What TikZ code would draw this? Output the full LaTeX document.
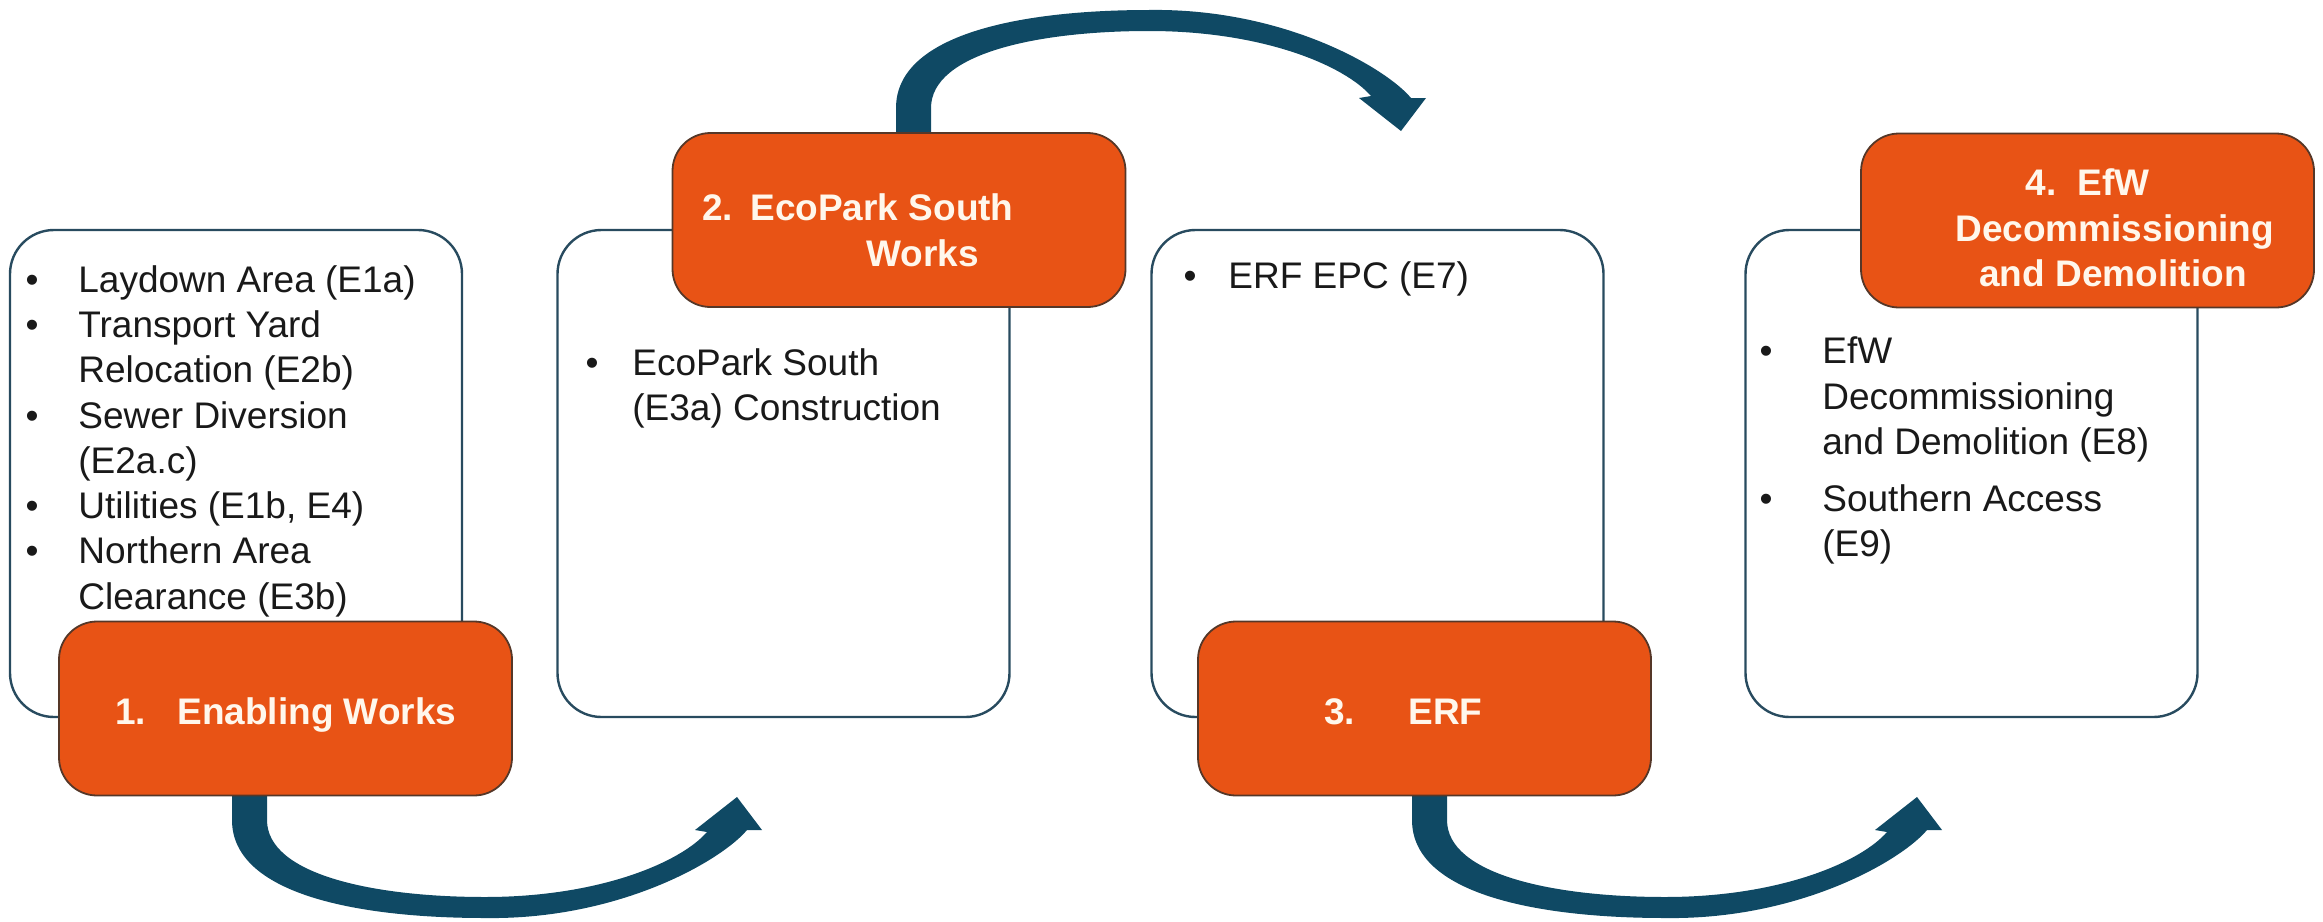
\documentclass[tikz,border=0pt]{standalone}
\usepackage{fontspec}
\setmainfont{Liberation Sans}
\definecolor{orangefill}{RGB}{232,83,21}
\definecolor{orangeline}{RGB}{85,55,40}
\definecolor{boxline}{RGB}{40,75,95}
\definecolor{arrowcol}{RGB}{15,73,100}
\definecolor{titletext}{RGB}{255,247,236}
\definecolor{bodytext}{RGB}{25,25,25}
\tikzset{
  curvarrow/.pic={
    \fill[arrowcol] (-18,-25) -- (-18,25) .. controls (-18,100) and (110,123) .. (235,123)
      .. controls (370,125) and (472,65) .. (497,35) -- (512,35) -- (487,2) -- (445,35) -- (457,37)
      .. controls (431,67) and (350,102) .. (235,102)
      .. controls (125,102) and (17,80) .. (17,25) -- (17,-25) -- cycle;
  }
}
\begin{document}
\begin{tikzpicture}[x=0.5pt,y=-0.5pt,
  whitebox/.style={draw=boxline, line width=1.2pt, fill=white, rounded corners=22pt,
    minimum width=226pt, minimum height=243.5pt, inner sep=0pt, outer sep=0pt},
  orangebox/.style={draw=orangeline, line width=0.9pt, fill=orangefill, rounded corners=19pt,
    minimum width=226.5pt, minimum height=87pt, inner sep=0pt, outer sep=0pt},
  bodytxt/.style={font=\fontsize{18.5}{22.65}\selectfont, text=bodytext, anchor=base west, inner sep=0pt},
  bul/.style={font=\fontsize{18.5}{22.65}\selectfont, text=bodytext, anchor=base, inner sep=0pt},
  ttltxt/.style={font=\fontsize{18.5}{22.65}\selectfont\bfseries, text=titletext, anchor=base west, inner sep=0pt}
]
\useasboundingbox (0,0) rectangle (2323,921);

% white content boxes
\node[whitebox] (w1) at (236,473.5) {};
\node[whitebox] (w2) at (783.5,473.5) {};
\node[whitebox] (w3) at (1377.5,473.5) {};
\node[whitebox] (w4) at (1971.5,473.5) {};

% curved arrows
\coordinate (s1) at (250,795);
\coordinate (s2) at (914,133);
\coordinate (s3) at (1430,795);
\pic at (s1) {curvarrow};
\pic[yscale=-1] at (s2) {curvarrow};
\pic at (s3) {curvarrow};

% orange title boxes
\node[orangebox] (o1) at (285.5,708.5) {};
\node[orangebox] (o2) at (899,220) {};
\node[orangebox] (o3) at (1424.5,708.5) {};
\node[orangebox] (o4) at (2087.5,220.5) {};

% titles
\node[ttltxt] (t1n) at (115,724) {1.};
\node[ttltxt] (t1) at (177,724) {Enabling Works};
\node[ttltxt] (t2n) at (702,220) {2.};
\node[ttltxt] (t2a) at (750,220) {EcoPark South};
\node[ttltxt] (t2b) at (866,266) {Works};
\node[ttltxt] (t3n) at (1324,724) {3.};
\node[ttltxt] (t3) at (1408,724) {ERF};
\node[ttltxt] (t4n) at (2025,195) {4.};
\node[ttltxt] (t4a) at (2077,195) {EfW};
\node[ttltxt] (t4b) at (1955,241) {Decommissioning};
\node[ttltxt] (t4c) at (1979,286) {and Demolition};

% box 1 text
\node[bul] (b11) at (32,292) {•};
\node[bodytxt] (l11) at (78,292) {Laydown Area (E1a)};
\node[bul] (b12) at (32,337.3) {•};
\node[bodytxt] (l12) at (78,337.3) {Transport Yard};
\node[bodytxt] (l13) at (78,382.6) {Relocation (E2b)};
\node[bul] (b13) at (32,428) {•};
\node[bodytxt] (l14) at (78,428) {Sewer Diversion};
\node[bodytxt] (l15) at (78,473.2) {(E2a.c)};
\node[bul] (b14) at (32,518.5) {•};
\node[bodytxt] (l16) at (78,518.5) {Utilities (E1b, E4)};
\node[bul] (b15) at (32,563.8) {•};
\node[bodytxt] (l17) at (78,563.8) {Northern Area};
\node[bodytxt] (l18) at (78,609) {Clearance (E3b)};

% box 2 text
\node[bul] (b21) at (592,375) {•};
\node[bodytxt] (l21) at (632,375) {EcoPark South};
\node[bodytxt] (l22) at (632,420) {(E3a) Construction};

% box 3 text
\node[bul] (b31) at (1190,288) {•};
\node[bodytxt] (l31) at (1228,288) {ERF EPC (E7)};

% box 4 text
\node[bul] (b41) at (1766,363) {•};
\node[bodytxt] (l41) at (1822,363) {EfW};
\node[bodytxt] (l42) at (1822,409) {Decommissioning};
\node[bodytxt] (l43) at (1822,454) {and Demolition (E8)};
\node[bul] (b42) at (1766,511) {•};
\node[bodytxt] (l44) at (1822,511) {Southern Access};
\node[bodytxt] (l45) at (1822,556) {(E9)};
\end{tikzpicture}
\end{document}
